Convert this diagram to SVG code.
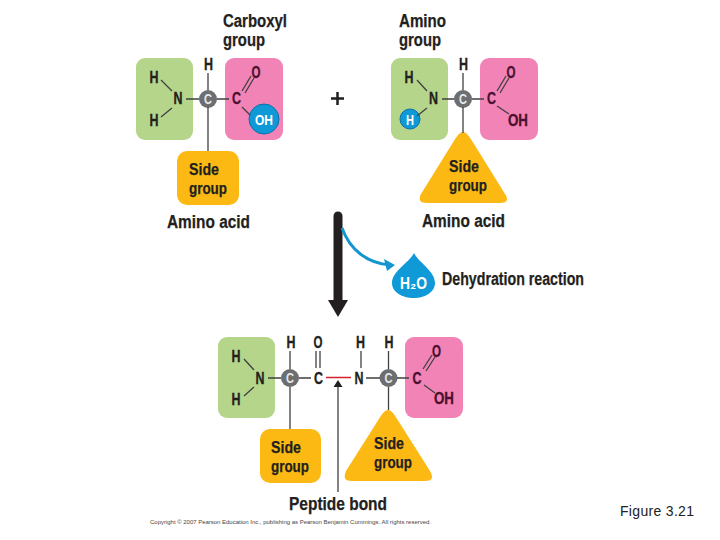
<svg xmlns="http://www.w3.org/2000/svg" width="720" height="540" viewBox="0 0 720 540">
<defs>
<style>
text{font-family:"Liberation Sans",Arial,sans-serif;font-weight:700;fill:#231f20}
.s{font-size:17px;stroke:#231f20;stroke-width:.25}
.l{font-size:18px;stroke:#231f20;stroke-width:.25}
.m{text-anchor:middle;font-size:17px;stroke:#231f20;stroke-width:.35}
.w{fill:#fff;font-size:15px;text-anchor:middle}
.g{fill:#b5d58b}.p{fill:#f283b6}.y{fill:#fdb913}
.b{stroke:#414042;stroke-width:1.3;fill:none}
.c{fill:#6d6e71}
.cw{fill:#e6e7e8;font-size:15px;text-anchor:middle}
.pc{fill:#4b1030;stroke:#4b1030}
.blue{fill:#0f9ad7;stroke:#0b6fa8;stroke-width:1}
</style>
</defs>
<g id="label-carboxyl"><text class="l" x="223" y="27" textLength="64" lengthAdjust="spacingAndGlyphs">Carboxyl</text><text class="l" x="223" y="46" textLength="42" lengthAdjust="spacingAndGlyphs">group</text></g>
<g id="label-amino"><text class="l" x="399" y="27" textLength="47" lengthAdjust="spacingAndGlyphs">Amino</text><text class="l" x="399" y="46" textLength="42" lengthAdjust="spacingAndGlyphs">group</text></g>
<g id="amino-acid-1">
<rect class="g" x="136" y="58" width="57" height="82" rx="9"/>
<rect class="p" x="225" y="58" width="58" height="82" rx="9"/>
<rect class="y" x="177" y="151" width="62" height="54" rx="10"/>
<circle class="c" cx="208" cy="99" r="9"/><text class="cw" x="208" y="104" textLength="8" lengthAdjust="spacingAndGlyphs">C</text>
<text class="m" x="154" y="83" textLength="9" lengthAdjust="spacingAndGlyphs">H</text><text class="m" x="154" y="126" textLength="9" lengthAdjust="spacingAndGlyphs">H</text><text class="m" x="178" y="104" textLength="9" lengthAdjust="spacingAndGlyphs">N</text><text class="m" x="208.500" y="70" textLength="9" lengthAdjust="spacingAndGlyphs">H</text>
<text class="m pc" x="236.500" y="104" textLength="9" lengthAdjust="spacingAndGlyphs">C</text><text class="m pc" x="256" y="78" textLength="9" lengthAdjust="spacingAndGlyphs">O</text>
<circle class="blue" cx="264" cy="119" r="15"/><text class="w" x="264" y="124.500" textLength="18" lengthAdjust="spacingAndGlyphs">OH</text>
<text class="s" x="189" y="175" textLength="30" lengthAdjust="spacingAndGlyphs">Side</text>
<text class="s" x="189" y="194" textLength="38" lengthAdjust="spacingAndGlyphs">group</text>
<text class="l" x="167" y="228" textLength="83" lengthAdjust="spacingAndGlyphs">Amino acid</text>
</g>
<g id="plus"><path d="M331 98.500H344M337.500 92V105" stroke="#231f20" stroke-width="2.500" fill="none"/></g>
<g id="amino-acid-2">
<rect class="g" x="391" y="58" width="57" height="82" rx="9"/>
<rect class="p" x="480" y="58" width="58" height="82" rx="9"/>
<path class="y" d="M463 132C467 132 470 138 474 144L505 194C509 200 507 203 500 203H427C420 203 418 200 421 194L452 144C456 138 459 132 463 132Z"/>
<circle class="c" cx="463" cy="99" r="9"/><text class="cw" x="463" y="104" textLength="8" lengthAdjust="spacingAndGlyphs">C</text>
<text class="m" x="409" y="83" textLength="9" lengthAdjust="spacingAndGlyphs">H</text><text class="m" x="433.500" y="104" textLength="9" lengthAdjust="spacingAndGlyphs">N</text><text class="m" x="463.500" y="70" textLength="9" lengthAdjust="spacingAndGlyphs">H</text>
<circle class="blue" cx="410" cy="119" r="10"/><text class="w" x="410" y="124.500" textLength="8" lengthAdjust="spacingAndGlyphs">H</text>
<text class="m pc" x="491.500" y="104" textLength="9" lengthAdjust="spacingAndGlyphs">C</text><text class="m pc" x="511" y="78" textLength="9" lengthAdjust="spacingAndGlyphs">O</text><text class="m pc" x="518" y="126" textLength="20" lengthAdjust="spacingAndGlyphs">OH</text>
<text class="s" x="449" y="172" textLength="30" lengthAdjust="spacingAndGlyphs">Side</text>
<text class="s" x="449" y="191" textLength="38" lengthAdjust="spacingAndGlyphs">group</text>
<text class="l" x="422" y="227" textLength="83" lengthAdjust="spacingAndGlyphs">Amino acid</text>
</g>
<g id="water">
<path d="M414 253C419 263 435 271 435 283C435 292 425 298 414 298C402 298 392 292 392 283C392 271 409 263 414 253Z" fill="#0f9ad7"/>
<text class="w" x="413.500" y="289" style="font-size:17px" textLength="27" lengthAdjust="spacingAndGlyphs">H₂O</text>
<text class="l" x="442" y="285" textLength="142" lengthAdjust="spacingAndGlyphs">Dehydration reaction</text>
</g>
<g id="dipeptide">
<rect class="g" x="218" y="337" width="57" height="81" rx="9"/>
<rect class="p" x="405" y="337" width="58" height="81" rx="9"/>
<rect class="y" x="260" y="429" width="61" height="54" rx="10"/>
<path class="y" d="M388 410C392 410 395 416 399 422L430 471C434 478 432 481 425 481H352C345 481 343 478 346 471L377 422C381 416 384 410 388 410Z"/>
<circle class="c" cx="290" cy="378" r="9"/><text class="cw" x="290" y="383" textLength="8" lengthAdjust="spacingAndGlyphs">C</text>
<circle class="c" cx="388.500" cy="378" r="9"/><text class="cw" x="388.500" y="383" textLength="8" lengthAdjust="spacingAndGlyphs">C</text>
<text class="m" x="236" y="362" textLength="9" lengthAdjust="spacingAndGlyphs">H</text><text class="m" x="236" y="405" textLength="9" lengthAdjust="spacingAndGlyphs">H</text><text class="m" x="260" y="384" textLength="9" lengthAdjust="spacingAndGlyphs">N</text>
<text class="m" x="291" y="348" textLength="9" lengthAdjust="spacingAndGlyphs">H</text><text class="m" x="318" y="348" textLength="9" lengthAdjust="spacingAndGlyphs">O</text><text class="m" x="360.500" y="348" textLength="9" lengthAdjust="spacingAndGlyphs">H</text><text class="m" x="389" y="348" textLength="9" lengthAdjust="spacingAndGlyphs">H</text>
<text class="m" x="318.500" y="384" textLength="9" lengthAdjust="spacingAndGlyphs">C</text><text class="m" x="359" y="384" textLength="9" lengthAdjust="spacingAndGlyphs">N</text>
<text class="m pc" x="417" y="384" textLength="9" lengthAdjust="spacingAndGlyphs">C</text><text class="m pc" x="436.500" y="357" textLength="9" lengthAdjust="spacingAndGlyphs">O</text><text class="m pc" x="444" y="404" textLength="20" lengthAdjust="spacingAndGlyphs">OH</text>
<text class="s" x="271" y="453" textLength="30" lengthAdjust="spacingAndGlyphs">Side</text>
<text class="s" x="271" y="472" textLength="38" lengthAdjust="spacingAndGlyphs">group</text>
<text class="s" x="374" y="449" textLength="30" lengthAdjust="spacingAndGlyphs">Side</text>
<text class="s" x="374" y="468" textLength="38" lengthAdjust="spacingAndGlyphs">group</text>
<text class="l" x="289" y="510" textLength="98" lengthAdjust="spacingAndGlyphs">Peptide bond</text>
</g>
<g id="connectors">
<path class="b" d="M161 80L172 91M161 117L172 108M186 99H199M208 73V90M208 107V151M217 99H229M242 91L251 76M245 93L254 78M242 107L250 115"/>
<path class="b" d="M417 80L427 91M417 116L427 108M442 99H454M463 73V90M463 107V133M472 99H484M497 91L506 76M500 93L509 78M497 106L509 114"/>
<path class="b" d="M244 359L254 370M244 396L254 387M268 378H281M290 351V369M290 387V429M299 378H311M316 351V368M320 351V368M361 351V368M366 378H380M388.500 351V369M388.500 387V410M397 378H409M423 369L432 355M426 371L435 357M424 385L435 393"/>
<path d="M326 377.500H351" stroke="#d2232a" stroke-width="1.500" fill="none"/>
<path d="M338 492V386" stroke="#414042" stroke-width="1.300" fill="none"/>
<path d="M338 380L333.500 387H342.500Z" fill="#231f20"/>
<path d="M338 216V304" stroke="#231f20" stroke-width="9" stroke-linecap="round" fill="none"/>
<path d="M328 300H348L338 317Z" fill="#231f20"/>
<path d="M342 228C350 250 367 263 390 265" stroke="#1495cf" stroke-width="3" fill="none"/>
<path d="M395 265L384 259L387 271Z" fill="#1495cf"/>
</g>
<text x="150" y="524" textLength="281" lengthAdjust="spacingAndGlyphs" style="font-weight:400;font-size:6px;fill:#444">Copyright © 2007 Pearson Education Inc., publishing as Pearson Benjamin Cummings. All rights reserved.</text>
<text x="620" y="516" style="font-weight:400;font-size:14px;fill:#222" textLength="74">Figure 3.21</text>
</svg>
